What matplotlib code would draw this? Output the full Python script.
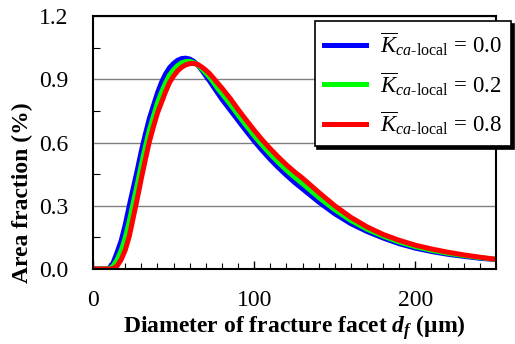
import numpy as np
import matplotlib
matplotlib.use('Agg')
import matplotlib.pyplot as plt
from matplotlib.ticker import MultipleLocator, FormatStrFormatter

plt.rcParams['font.family'] = ['Liberation Serif', 'DejaVu Serif']
plt.rcParams['mathtext.fontset'] = 'custom'
plt.rcParams['mathtext.rm'] = 'Liberation Serif'
plt.rcParams['mathtext.it'] = 'Liberation Serif:italic'
plt.rcParams['mathtext.bf'] = 'Liberation Serif:bold'
plt.rcParams['mathtext.bfit'] = 'Liberation Serif:bold:italic'

# diameter of fracture facet (um)
d = [0, 2.5, 5, 7.5, 10, 12.5, 15, 17.5, 20, 22.5, 25, 27.5, 30, 32.5, 35, 37.5,
     40, 42.5, 45, 47.5, 50, 52.5, 55, 57.5, 60, 62.5, 65, 67.5, 70, 72.5, 75, 77.5,
     80, 85, 90, 95, 100, 105, 110, 115, 120, 125, 130, 140, 150, 160, 170, 180,
     190, 200, 210, 220, 230, 240, 250]

# area fraction (%) for each K value
k00 = [0, 0, 0, 0, 0.003, 0.03, 0.08, 0.135, 0.21, 0.30, 0.385, 0.47, 0.56, 0.64,
       0.715, 0.775, 0.835, 0.885, 0.925, 0.955, 0.975, 0.99, 0.998, 1.0, 0.996,
       0.985, 0.967, 0.943, 0.916, 0.89, 0.861, 0.833, 0.805, 0.755, 0.705, 0.655,
       0.607, 0.562, 0.52, 0.481, 0.445, 0.411, 0.38, 0.318, 0.262, 0.215, 0.178,
       0.147, 0.12, 0.099, 0.083, 0.07, 0.06, 0.051, 0.045]
k02 = [0, 0, 0, 0, 0.001, 0.014, 0.045, 0.088, 0.147, 0.226, 0.315, 0.402, 0.495,
       0.58, 0.66, 0.725, 0.788, 0.838, 0.883, 0.92, 0.945, 0.965, 0.978, 0.984,
       0.985, 0.979, 0.968, 0.949, 0.929, 0.908, 0.882, 0.855, 0.832, 0.783, 0.731,
       0.681, 0.632, 0.587, 0.545, 0.506, 0.469, 0.436, 0.405, 0.34, 0.281, 0.23,
       0.189, 0.156, 0.128, 0.106, 0.089, 0.075, 0.064, 0.054, 0.046]
k08 = [0, 0, 0, 0, 0, 0.002, 0.015, 0.045, 0.09, 0.155, 0.245, 0.335, 0.43, 0.52,
       0.605, 0.675, 0.74, 0.79, 0.84, 0.885, 0.915, 0.94, 0.957, 0.968, 0.974,
       0.975, 0.97, 0.958, 0.943, 0.925, 0.903, 0.88, 0.858, 0.81, 0.757, 0.707,
       0.658, 0.612, 0.57, 0.531, 0.494, 0.461, 0.431, 0.364, 0.3, 0.245, 0.2,
       0.164, 0.136, 0.113, 0.095, 0.08, 0.067, 0.056, 0.046]

labels = [r'$\overline{K}_{ca\text{-local}}$ = 0.0',
          r'$\overline{K}_{ca\text{-local}}$ = 0.2',
          r'$\overline{K}_{ca\text{-local}}$ = 0.8']
colors = ['#0000ff', '#00ff00', '#ff0000']

fig = plt.figure(figsize=(5.15, 3.44), dpi=100)
ax = fig.add_axes([0.1806, 0.218, 0.7824, 0.7355])

for y, c, lab in zip([k00, k02, k08], colors, labels):
    ax.plot(d, y, color=c, lw=3.6, label=lab, solid_joinstyle='round')

ax.set_xlim(0, 250)
ax.set_ylim(0, 1.2)
ax.xaxis.set_major_locator(MultipleLocator(100))
ax.xaxis.set_minor_locator(MultipleLocator(10))
ax.yaxis.set_major_locator(MultipleLocator(0.3))
ax.yaxis.set_minor_locator(MultipleLocator(0.15))
ax.yaxis.set_major_formatter(FormatStrFormatter('%.1f'))
ax.grid(axis='y', which='major', color='#808080', lw=1)
ax.set_axisbelow(True)

ax.tick_params(which='both', direction='in', top=False, right=False, labelsize=17)
ax.tick_params(axis='x', which='major', length=6, width=1, pad=15)
ax.tick_params(axis='x', which='minor', length=4, width=0.8)
ax.tick_params(axis='y', which='major', length=0, pad=18)
ax.tick_params(axis='y', which='minor', length=5, width=0.8)
for s in ax.spines.values():
    s.set_linewidth(1.5)

ax.set_xlabel(r'Diameter of fracture facet $\mathbfit{d}_{\mathbfit{f}}$ (μm)',
              fontsize=17, fontweight='bold', labelpad=2)
ax.set_ylabel('Area fraction (%)', fontsize=17, fontweight='bold')
ax.yaxis.set_label_coords(-0.15, 0.30)

leg = ax.legend(loc='upper right', bbox_to_anchor=(511 / 515, 1 - 21 / 344),
                bbox_transform=fig.transFigure, fontsize=16.5, frameon=True,
                fancybox=False, shadow={'color': 'black', 'alpha': 1, 'ox': 2, 'oy': -2},
                edgecolor='black', framealpha=1, handlelength=1.85,
                handletextpad=0.6, labelspacing=0.5, borderpad=0.4,
                borderaxespad=0)
leg.get_frame().set_linewidth(1.2)

fig.savefig('out.png', dpi=100)
